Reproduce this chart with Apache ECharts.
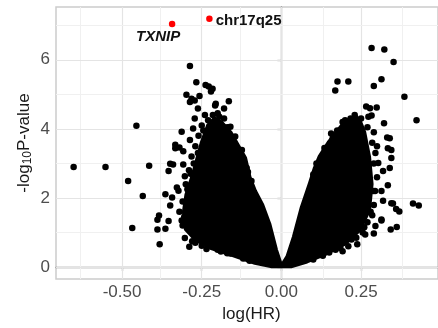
<!DOCTYPE html>
<html>
<head>
<meta charset="utf-8">
<script src="https://cdn.jsdelivr.net/npm/echarts@6/dist/echarts.min.js"></script>
<style>
  html, body { margin: 0; padding: 0; background: #fff; }
  #chart { width: 438px; height: 328px; }
</style>
</head>
<body>
<div id="chart"></div>
<script>
// axis ticks / grid lines
var xTicks = [-0.5, -0.25, 0, 0.25];
var xMinor = [-0.625, -0.375, -0.125, 0.125, 0.375];
var yTicks = [0, 2, 4, 6];
var yMinor = [1, 3, 5, 7];

// dense cloud outline (left / right lobes)
var leftMassX = [0, -0.017, -0.038, -0.06, -0.083, -0.1, -0.114, -0.135, -0.16, -0.19, -0.21, -0.23, -0.25, -0.265, -0.28, -0.298, -0.306, -0.3, -0.27, -0.22, -0.155, -0.083, -0.03];
var leftMassY = [0.02, 0.5, 1.25, 1.8, 2.2, 2.6, 3.16, 3.5, 3.9, 4.2, 4.3, 4.1, 3.6, 3.1, 2.6, 2.1, 1.6, 1.1, 0.8, 0.55, 0.35, 0.12, 0.02];
var rightMassX = [0, 0.019, 0.039, 0.064, 0.09, 0.105, 0.12, 0.15, 0.19, 0.22, 0.245, 0.26, 0.275, 0.283, 0.275, 0.245, 0.2, 0.14, 0.08, 0.03];
var rightMassY = [0.02, 0.3, 0.87, 1.73, 2.44, 2.87, 3.2, 3.63, 4.1, 4.3, 4.25, 3.9, 3.2, 2.4, 1.65, 1.07, 0.68, 0.39, 0.16, 0.02];

// individual points around the cloud
var pointX = [
  -0.287, -0.455, -0.267, -0.238, -0.298, -0.282, -0.313, -0.333, -0.32, -0.349,
  -0.652, -0.552, -0.415, -0.481, -0.435, -0.468, -0.382, -0.389, -0.364, -0.384,
  -0.389, -0.354, -0.364, -0.349, -0.343, -0.34, -0.354, -0.303, -0.289, -0.328,
  -0.323, -0.165, -0.18, -0.208, -0.228, -0.216, -0.257, -0.221, -0.333, -0.313,
  -0.308, -0.282, -0.308, -0.303, -0.287, -0.277, -0.124, -0.145, -0.16, -0.206,
  -0.287, -0.272, -0.262, -0.272, -0.094, -0.109, -0.083, -0.16, -0.216,
  -0.32, -0.31, -0.3, -0.29, -0.27, -0.26, -0.25, -0.24, -0.2, -0.18, -0.15, -0.12,
  -0.31, -0.28, -0.25, -0.19, -0.12,
  -0.305, -0.295, -0.285, -0.275, -0.262, -0.245, -0.23, -0.215, -0.195, -0.17,
  -0.14, -0.105, -0.27, -0.235, -0.2, -0.17, -0.1,
  0.283, 0.323, 0.352, 0.176, 0.169, 0.21, 0.314, 0.29, 0.386, 0.424,
  0.266, 0.278, 0.299, 0.283, 0.322, 0.332, 0.232, 0.217, 0.345, 0.413,
  0.431, 0.362, 0.343, 0.29, 0.263, 0.314, 0.295, 0.35, 0.36, 0.37,
  0.319, 0.345, 0.192, 0.238, 0.304, 0.319, 0.294, 0.34, 0.334, 0.345,
  0.34, 0.334, 0.314, 0.314, 0.1, 0.125, 0.156, 0.161, 0.192, 0.197, 0.273,
  0.29, 0.3, 0.295, 0.3, 0.29, 0.285, 0.27, 0.255, 0.22, 0.21, 0.17, 0.13, 0.1,
  0.25, 0.27, 0.285, 0.29, 0.288, 0.28, 0.26, 0.235, 0.185, 0.15,
  0.11, 0.135, 0.175, 0.2, 0.23
];
var pointY = [
  5.82, 4.09, 5.35, 5.27, 4.99, 4.87, 3.92, 3.54, 3.46, 2.99,
  2.9, 2.9, 2.93, 2.49, 2.06, 1.13, 0.66, 1.09, 1.11, 1.49,
  1.37, 1.33, 2.11, 1.78, 2.01, 2.97, 2.78, 0.84, 0.59, 2.3,
  2.21, 4.8, 4.59, 4.68, 5.23, 5.16, 4.95, 5.08, 3.44, 1.35,
  3.35, 3.2, 2.97, 2.63, 3.68, 4.01, 3.39, 3.78, 4.06, 4.73,
  4.78, 4.82, 4.59, 4.3, 2.49, 2.87, 2.01, 0.39, 0.59,
  1.6, 1.9, 2.4, 2.8, 3.5, 3.8, 4.1, 4.4, 4.45, 4.3, 3.6, 3.1,
  1.2, 0.75, 0.62, 0.45, 0.25,
  1.45, 2.25, 2.7, 3.0, 3.3, 3.95, 4.25, 4.4, 4.35, 4.05,
  3.45, 2.75, 0.7, 0.52, 0.5, 0.4, 0.18,
  6.34, 6.3, 5.94, 5.37, 5.11, 5.37, 5.44, 5.24, 4.93, 4.25,
  4.65, 4.6, 4.62, 4.39, 4.16, 3.75, 4.32, 4.3, 3.39, 1.84,
  1.78, 1.16, 1.09, 0.97, 0.94, 1.38, 1.19, 1.84, 1.68, 1.61,
  1.92, 1.85, 0.46, 0.66, 3.01, 2.78, 2.2, 3.73, 3.44, 3.16,
  2.87, 2.37, 2.2, 1.35, 2.68, 3.16, 3.87, 3.73, 4.2, 4.11, 4.35,
  3.9, 3.5, 3.3, 2.6, 1.8, 1.5, 1.3, 1.0, 0.8, 0.6, 0.5, 0.33, 0.22,
  4.3, 4.05, 3.6, 3.0, 2.2, 1.6, 1.15, 0.85, 0.55, 0.42,
  3.0, 3.45, 3.95, 4.25, 4.4
];

// highlighted hits
var hitNames = ['TXNIP', 'chr17q25'];
var hitX = [-0.343, -0.226];
var hitY = [7.04, 7.19];

function pairs(xs, ys) {
  return xs.map(function (x, i) { return [x, ys[i]]; });
}

var leftMass = pairs(leftMassX, leftMassY);
var rightMass = pairs(rightMassX, rightMassY);

function massRender(data) {
  return function (params, api) {
    if (params.dataIndex !== 0) return null;
    var pts = data.map(function (d) { return api.coord(d); });
    return {
      type: 'polygon',
      shape: { points: pts },
      style: { fill: '#000', stroke: '#000', lineWidth: 4, lineJoin: 'round' }
    };
  };
}

var gridLines = [];
xTicks.forEach(function (v) { gridLines.push({ xAxis: v, lineStyle: { color: '#e4e4e4', width: 1.2, type: 'solid' } }); });
xMinor.forEach(function (v) { gridLines.push({ xAxis: v, lineStyle: { color: '#f0f0f0', width: 1, type: 'solid' } }); });
yTicks.forEach(function (v) { gridLines.push({ yAxis: v, lineStyle: { color: '#e4e4e4', width: 1.2, type: 'solid' } }); });
yMinor.forEach(function (v) { gridLines.push({ yAxis: v, lineStyle: { color: '#f0f0f0', width: 1, type: 'solid' } }); });

var hitData = hitNames.map(function (n, i) {
  var item = { name: n, value: [hitX[i], hitY[i]] };
  if (i === 0) {
    item.label = { position: 'bottom', offset: [-14, -3], fontStyle: 'italic' };
  } else {
    item.label = { position: 'right', distance: 3, offset: [0, 2] };
  }
  return item;
});

var myChart = echarts.init(document.getElementById('chart'), null, { renderer: 'canvas' });
var option = {
  animation: false,
  backgroundColor: '#fff',
  grid: {
    left: 56, top: 7, right: -10, bottom: 45,
    show: true, borderColor: '#cccccc', borderWidth: 1.5, backgroundColor: '#fff'
  },
  xAxis: {
    type: 'value',
    min: -0.7073, max: 0.4914,
    name: 'log(HR)',
    nameLocation: 'middle',
    nameGap: 22,
    nameTextStyle: { fontFamily: 'Liberation Sans', fontSize: 17, color: '#1a1a1a', padding: [0, 0, 0, 9] },
    axisLine: { show: true, lineStyle: { color: '#8f8f8f', width: 1.3 } },
    axisTick: { show: true, length: 4, customValues: xTicks, lineStyle: { color: '#8f8f8f', width: 1.3 } },
    axisLabel: { customValues: xTicks, margin: 5, fontFamily: 'Liberation Sans', fontSize: 17, color: '#4d4d4d',
      formatter: function (v) { return v.toFixed(2); } },
    splitLine: { show: false }
  },
  yAxis: {
    type: 'value',
    min: -0.349, max: 7.529,
    name: '{a|-log}{b|10}{a|P-value}',
    nameLocation: 'middle',
    nameGap: 22,
    nameMoveOverlap: false,
    nameTextStyle: {
      rich: {
        a: { fontFamily: 'Liberation Sans', fontSize: 17, color: '#1a1a1a', lineHeight: 20 },
        b: { fontFamily: 'Liberation Sans', fontSize: 12, color: '#1a1a1a', verticalAlign: 'bottom', padding: [8, 0, 0, 0] }
      }
    },
    axisLine: { show: true, lineStyle: { color: '#8f8f8f', width: 1.3 } },
    axisTick: { show: true, length: 4, customValues: yTicks, lineStyle: { color: '#8f8f8f', width: 1.3 } },
    axisLabel: { customValues: yTicks, margin: 6, fontFamily: 'Liberation Sans', fontSize: 17, color: '#4d4d4d' },
    splitLine: { show: false }
  },
  series: [
    {
      type: 'scatter', data: [], silent: true, z: 1,
      markLine: { silent: true, z: 1, symbol: 'none', label: { show: false }, animation: false, data: gridLines }
    },
    {
      type: 'custom', data: leftMass, renderItem: massRender(leftMass), z: 3, silent: true
    },
    {
      type: 'custom', data: rightMass, renderItem: massRender(rightMass), z: 3, silent: true
    },
    {
      type: 'scatter', data: pairs(pointX, pointY), symbolSize: 6.5, z: 4,
      itemStyle: { color: '#000', opacity: 1 }
    },
    {
      type: 'scatter', data: hitData, symbolSize: 6.5, z: 5,
      itemStyle: { color: '#ff0000', opacity: 1 },
      label: {
        show: true,
        formatter: function (p) { return p.name; },
        fontFamily: 'Liberation Sans', fontWeight: 'bold', fontSize: 15, color: '#111'
      }
    }
  ]
};
myChart.setOption(option);
</script>
</body>
</html>
